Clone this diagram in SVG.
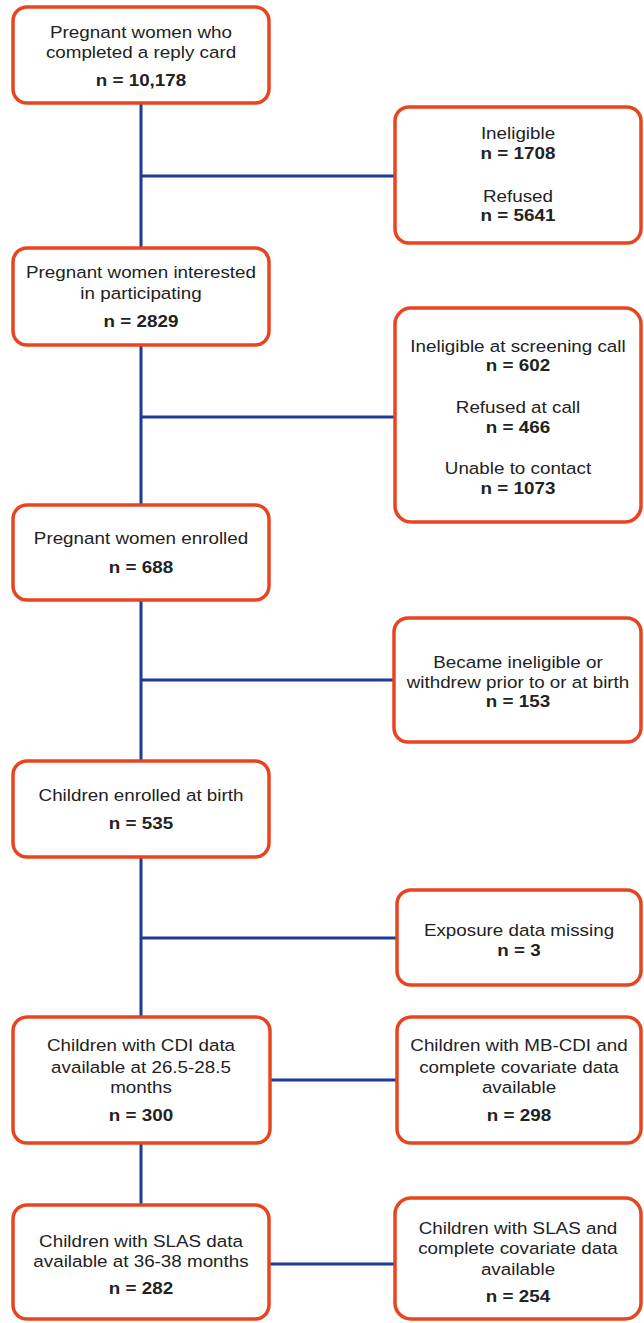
<svg xmlns="http://www.w3.org/2000/svg" width="644" height="1323" viewBox="0 0 644 1323">
<style>
.box{fill:#fff;stroke:#e8441f;stroke-width:3.5}
.ln{stroke:#1c3a96;stroke-width:3;fill:none}
text{font-family:"Liberation Sans",Arial,sans-serif;font-size:16.5px;fill:#222;text-anchor:middle}
.b{font-weight:bold}
</style>
<rect width="644" height="1323" fill="#fff"/>
<g id="connectors">
<path class="ln" d="M141,103V248M141,345V505M141,600V761M141,857V1017M141,1143V1205"/>
<path class="ln" d="M141,176H395M141,417H395M141,680H394M141,938H397M270,1080H397M269,1264H395"/>
</g>
<g id="n1"><rect class="box" x="13" y="7" width="256" height="96" rx="14"/>
<text transform="translate(141,38) scale(1.14,1)">Pregnant women who</text>
<text transform="translate(141,58) scale(1.14,1)">completed a reply card</text>
<text class="b" transform="translate(141,86) scale(1.14,1)">n = 10,178</text></g>
<g id="x1"><rect class="box" x="395" y="107" width="246" height="136" rx="14"/>
<text transform="translate(518,139) scale(1.14,1)">Ineligible</text>
<text class="b" transform="translate(518,159) scale(1.14,1)">n = 1708</text>
<text transform="translate(518,202) scale(1.14,1)">Refused</text>
<text class="b" transform="translate(518,221) scale(1.14,1)">n = 5641</text></g>
<g id="n2"><rect class="box" x="13" y="248" width="256" height="97" rx="14"/>
<text transform="translate(141,278) scale(1.14,1)">Pregnant women interested</text>
<text transform="translate(141,299) scale(1.14,1)">in participating</text>
<text class="b" transform="translate(141,327) scale(1.14,1)">n = 2829</text></g>
<g id="x2"><rect class="box" x="395" y="308" width="246" height="214" rx="16"/>
<text transform="translate(518,352) scale(1.14,1)">Ineligible at screening call</text>
<text class="b" transform="translate(518,371) scale(1.14,1)">n = 602</text>
<text transform="translate(518,413) scale(1.14,1)">Refused at call</text>
<text class="b" transform="translate(518,433) scale(1.14,1)">n = 466</text>
<text transform="translate(518,474) scale(1.14,1)">Unable to contact</text>
<text class="b" transform="translate(518,494) scale(1.14,1)">n = 1073</text></g>
<g id="n3"><rect class="box" x="13" y="505" width="256" height="95" rx="14"/>
<text transform="translate(141,544) scale(1.14,1)">Pregnant women enrolled</text>
<text class="b" transform="translate(141,573) scale(1.14,1)">n = 688</text></g>
<g id="x3"><rect class="box" x="394" y="618" width="247" height="124" rx="14"/>
<text transform="translate(518,668) scale(1.14,1)">Became ineligible or</text>
<text transform="translate(518,688) scale(1.14,1)">withdrew prior to or at birth</text>
<text class="b" transform="translate(518,707) scale(1.14,1)">n = 153</text></g>
<g id="n4"><rect class="box" x="13" y="761" width="256" height="96" rx="14"/>
<text transform="translate(141,801) scale(1.14,1)">Children enrolled at birth</text>
<text class="b" transform="translate(141,829) scale(1.14,1)">n = 535</text></g>
<g id="x4"><rect class="box" x="397" y="890" width="244" height="95" rx="14"/>
<text transform="translate(519,936) scale(1.14,1)">Exposure data missing</text>
<text class="b" transform="translate(519,956) scale(1.14,1)">n = 3</text></g>
<g id="n5"><rect class="box" x="13" y="1017" width="257" height="126" rx="14"/>
<text transform="translate(141,1051) scale(1.14,1)">Children with CDI data</text>
<text transform="translate(141,1073) scale(1.14,1)">available at 26.5-28.5</text>
<text transform="translate(141,1093) scale(1.14,1)">months</text>
<text class="b" transform="translate(141,1121) scale(1.14,1)">n = 300</text></g>
<g id="x5"><rect class="box" x="397" y="1017" width="244" height="126" rx="14"/>
<text transform="translate(519,1051) scale(1.14,1)">Children with MB-CDI and</text>
<text transform="translate(519,1073) scale(1.14,1)">complete covariate data</text>
<text transform="translate(519,1093) scale(1.14,1)">available</text>
<text class="b" transform="translate(519,1121) scale(1.14,1)">n = 298</text></g>
<g id="n6"><rect class="box" x="13" y="1205" width="256" height="114" rx="14"/>
<text transform="translate(141,1247) scale(1.14,1)">Children with SLAS data</text>
<text transform="translate(141,1267) scale(1.14,1)">available at 36-38 months</text>
<text class="b" transform="translate(141,1294) scale(1.14,1)">n = 282</text></g>
<g id="x6"><rect class="box" x="395" y="1198" width="246" height="121" rx="16"/>
<text transform="translate(518,1234) scale(1.14,1)">Children with SLAS and</text>
<text transform="translate(518,1254) scale(1.14,1)">complete covariate data</text>
<text transform="translate(518,1275) scale(1.14,1)">available</text>
<text class="b" transform="translate(518,1302) scale(1.14,1)">n = 254</text></g>
</svg>
